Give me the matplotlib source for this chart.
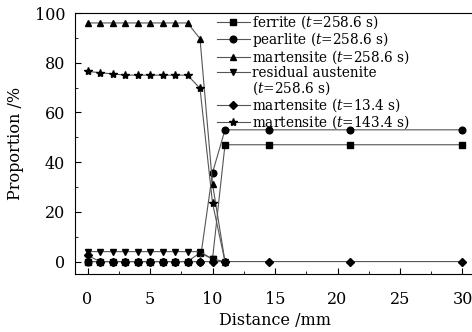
import matplotlib
matplotlib.use("Agg")
import matplotlib.pyplot as plt
from matplotlib.lines import Line2D
from matplotlib.ticker import MultipleLocator

plt.rcParams['font.family'] = 'DejaVu Serif'
plt.rcParams['mathtext.fontset'] = 'dejavuserif'

# distance along the sample (mm)
x_short = [0, 1, 2, 3, 4, 5, 6, 7, 8, 9, 10, 11]
x_long = [0, 1, 2, 3, 4, 5, 6, 7, 8, 9, 10, 11, 14.5, 21, 30]

ferrite = [0, 0, 0, 0, 0, 0, 0, 0, 0, 3.5, 1, 47, 47, 47, 47]
pearlite = [0, 0, 0, 0, 0, 0, 0, 0, 0, 0, 35.7, 53, 53, 53, 53]
martensite_258 = [96, 96, 96, 96, 96, 96, 96, 96, 96, 89.7, 31.3, 0]
austenite_258 = [4, 4, 4, 4, 4, 4, 4, 4, 4, 4, 1, 0]
martensite_13 = [2.5, 0, 0, 0, 0, 0, 0, 0, 0, 0, 0, 0, 0, 0, 0]
martensite_143 = [76.5, 76, 75.5, 75, 75, 75, 75, 75, 75, 69.7, 23.6, 0]

labels = ['ferrite ($t$=258.6 s)', 'pearlite ($t$=258.6 s)',
          'martensite ($t$=258.6 s)', 'residual austenite',
          'martensite ($t$=13.4 s)', 'martensite ($t$=143.4 s)']
label_cont = '($t$=258.6 s)'

fig = plt.figure(figsize=(4.72, 3.32), dpi=100)
ax = fig.add_axes([75/472, 1-274/332, 400/472, 261/332])

kw = dict(color='#555555', lw=0.8, mec='black', mfc='black')
h1, = ax.plot(x_long, ferrite, marker='s', ms=4, label=labels[0], **kw)
h2, = ax.plot(x_long, pearlite, marker='o', ms=4.8, label=labels[1], **kw)
h3, = ax.plot(x_short, martensite_258, marker='^', ms=5, label=labels[2], **kw)
h4, = ax.plot(x_short, austenite_258, marker='v', ms=5, label=labels[3], **kw)
h5, = ax.plot(x_long, martensite_13, marker='D', ms=3.8, label=labels[4], **kw)
h6, = ax.plot(x_short, martensite_143, marker='*', ms=6, label=labels[5], **kw)
blank = Line2D([], [], linestyle='none', marker=None)

ax.set_xlim(-1, 31)
ax.set_ylim(-5, 100)
ax.xaxis.set_major_locator(MultipleLocator(5))
ax.xaxis.set_minor_locator(MultipleLocator(2.5))
ax.yaxis.set_major_locator(MultipleLocator(20))
ax.yaxis.set_minor_locator(MultipleLocator(10))
ax.tick_params(which='both', direction='in', labelsize=11.5)
ax.tick_params(which='major', length=4)
ax.tick_params(which='minor', length=2.5)
ax.tick_params(axis='x', pad=12)
ax.tick_params(axis='y', pad=7)
ax.spines['right'].set_visible(False)

ax.set_xlabel('Distance /mm', fontsize=11.5, labelpad=3)
ax.set_ylabel('Proportion /%', fontsize=11.5, labelpad=8)

ax.legend([h1, h2, h3, h4, blank, h5, h6],
          labels[:4] + [label_cont] + labels[4:],
          loc='upper left', bbox_to_anchor=(0.348, 1.01), frameon=False,
          fontsize=9.8, labelspacing=-0.04, handlelength=2.4, handletextpad=0.15,
          borderpad=0.2, borderaxespad=0.0)

fig.savefig('out.png', dpi=100)
